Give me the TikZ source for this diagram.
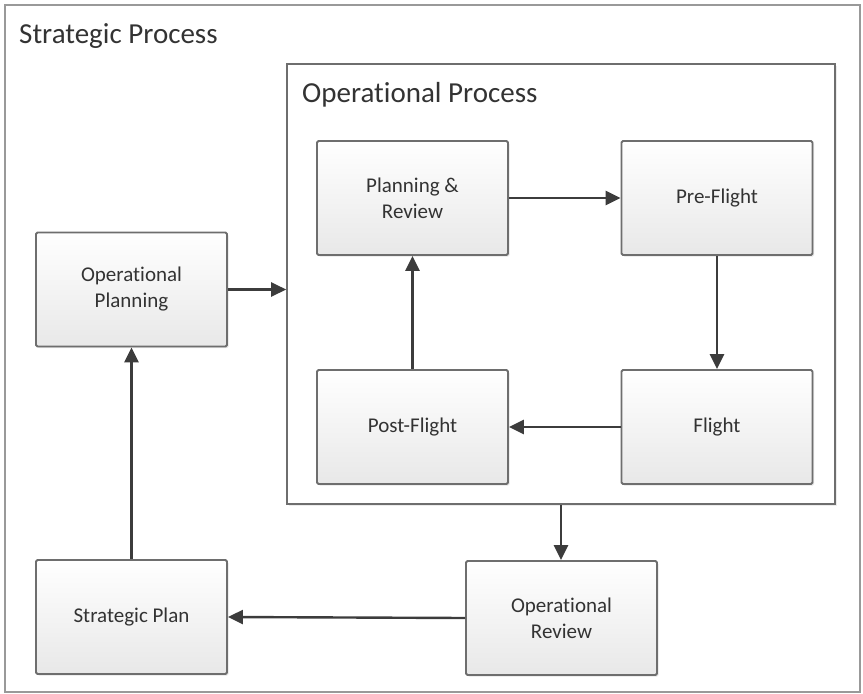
\documentclass[tikz,border=0pt]{standalone}
\usepackage{fontspec}
\setmainfont{Carlito}[Ligatures={NoCommon,NoContextual}]
\usepackage{xcolor}
\definecolor{textdark}{HTML}{333333}
\definecolor{edgegray}{HTML}{6E6E6E}
\definecolor{framegray}{HTML}{999999}
\definecolor{arrowgray}{HTML}{3C3C3C}
\usetikzlibrary{arrows.meta,positioning,shadows}
\tikzset{
  procbox/.style={draw=edgegray, line width=1.8pt, rounded corners=1.5pt,
    top color=white, bottom color=black!9, minimum width=191pt,
    minimum height=114pt, align=center, text=textdark,
    font=\fontsize{21}{26}\selectfont,
    drop shadow={shadow xshift=1.5pt, shadow yshift=-1.5pt, fill=black!20}},
  opframe/.style={draw=edgegray, line width=1.6pt, fill=white,
    minimum width=548pt, minimum height=440pt, inner sep=0pt,
    drop shadow={shadow xshift=1.5pt, shadow yshift=-1.5pt, fill=black!15}},
  flow/.style={draw=arrowgray, line width=2.4pt,
    -{Triangle[length=15pt, width=14pt]}},
  title/.style={anchor=base west, text=textdark, inner sep=0pt,
    font=\fontsize{29}{34}\selectfont}
}

\begin{document}
\begin{tikzpicture}[x=1pt, y=-1pt]
  \useasboundingbox (0,0) rectangle (863,694);
  % Strategic frame
  \draw[framegray, line width=2.2pt] (5,5) rectangle (860,692);
  \node[title] (stitle) at (19,43) {Strategic Process};

  % Operational frame
  \node[opframe] (opbox) at (561,284) {};
  \node[title] (otitle) at (302,102) {Operational Process};

  % Boxes
  \node[procbox] (oplan) at (131.5,289.5) {Operational\\Planning};
  \node[procbox] (splan) at (131.5,617) {Strategic Plan};
  \node[procbox] (oreview) at (561.5,618) {Operational\\Review};
  \node[procbox] (planrev) at (412.5,198) {Planning \&\\Review};
  \node[procbox] (preflight) at (717,198) {Pre-Flight};
  \node[procbox] (postflight) at (412.5,427) {Post-Flight};
  \node[procbox] (flight) at (717,427) {Flight};

  % Arrows
  \draw[flow] (oplan.east) -- (oplan.east -| opbox.west);
  \draw[flow] (opbox.south) -- (opbox.south |- oreview.north);
  \draw[flow] (oreview.west) -- (splan.east);
  \draw[flow] (splan.north) -- (oplan.south);
  \draw[flow] (planrev.east) -- (preflight.west);
  \draw[flow] (preflight.south) -- (flight.north);
  \draw[flow] (flight.west) -- (postflight.east);
  \draw[flow] (postflight.north) -- (planrev.south);
\end{tikzpicture}
\end{document}
